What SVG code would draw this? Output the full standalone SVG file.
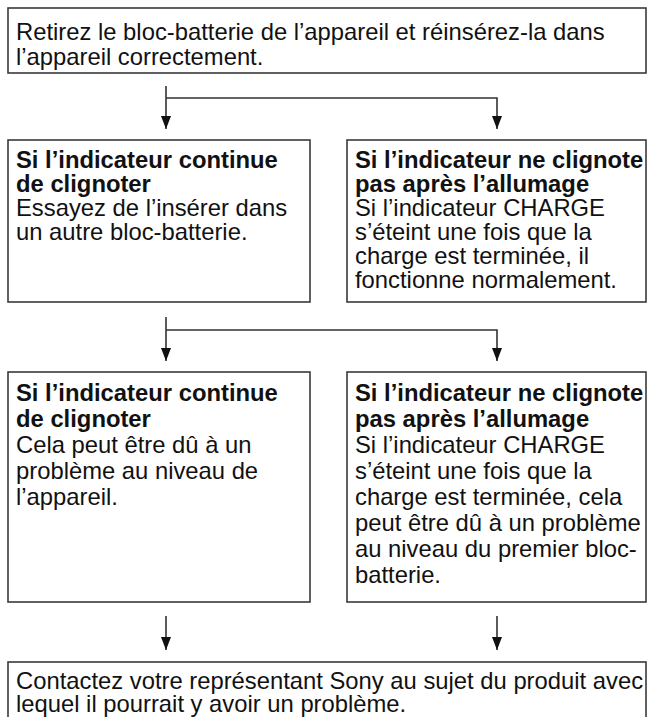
<svg xmlns="http://www.w3.org/2000/svg" width="654" height="717" viewBox="0 0 654 717">
<style>
.box{fill:#fff;stroke:#3a3a3a;stroke-width:1.6}
.t{font-family:"Liberation Sans",Arial,sans-serif;font-size:23.8px;fill:#111}
.b{font-weight:bold}
.c{fill:none;stroke:#333;stroke-width:1.6}
</style>
<defs>
<marker id="ah" viewBox="0 0 13 10" refX="13" refY="5" markerWidth="13" markerHeight="10" markerUnits="userSpaceOnUse" orient="auto">
<path d="M0,0 L13,5 L0,10 Z" fill="#111"/>
</marker>
</defs>
<rect width="654" height="717" fill="#fff"/>
<g id="connectors">
<path class="c" d="M166,86 V129" marker-end="url(#ah)"/>
<path class="c" d="M166,98 H497 V129" marker-end="url(#ah)"/>
<path class="c" d="M166,317 V361" marker-end="url(#ah)"/>
<path class="c" d="M166,330 H497 V361" marker-end="url(#ah)"/>
<path class="c" d="M166,616 V650" marker-end="url(#ah)"/>
<path class="c" d="M497,616 V650" marker-end="url(#ah)"/>
</g>
<g id="n1">
<rect class="box" x="8" y="8" width="638" height="65"/>
<text class="t" x="16" y="40">Retirez le bloc-batterie de l’appareil et réinsérez-la dans</text>
<text class="t" x="16" y="65">l’appareil correctement.</text>
</g>
<g id="n2">
<rect class="box" x="8" y="140" width="302" height="162"/>
<text class="t b" x="16" y="168">Si l’indicateur continue</text>
<text class="t b" x="16" y="192">de clignoter</text>
<text class="t" x="16" y="216">Essayez de l’insérer dans</text>
<text class="t" x="16" y="240">un autre bloc-batterie.</text>
</g>
<g id="n3">
<rect class="box" x="347" y="140" width="299" height="162"/>
<text class="t b" x="355" y="168">Si l’indicateur ne clignote</text>
<text class="t b" x="355" y="192">pas après l’allumage</text>
<text class="t" x="355" y="216">Si l’indicateur CHARGE</text>
<text class="t" x="355" y="240">s’éteint une fois que la</text>
<text class="t" x="355" y="264">charge est terminée, il</text>
<text class="t" x="355" y="288">fonctionne normalement.</text>
</g>
<g id="n4">
<rect class="box" x="8" y="372" width="302" height="230"/>
<text class="t b" x="16" y="401">Si l’indicateur continue</text>
<text class="t b" x="16" y="427">de clignoter</text>
<text class="t" x="16" y="453">Cela peut être dû à un</text>
<text class="t" x="16" y="479">problème au niveau de</text>
<text class="t" x="16" y="505">l’appareil.</text>
</g>
<g id="n5">
<rect class="box" x="347" y="372" width="299" height="230"/>
<text class="t b" x="355" y="401">Si l’indicateur ne clignote</text>
<text class="t b" x="355" y="427">pas après l’allumage</text>
<text class="t" x="355" y="453">Si l’indicateur CHARGE</text>
<text class="t" x="355" y="479">s’éteint une fois que la</text>
<text class="t" x="355" y="505">charge est terminée, cela</text>
<text class="t" x="355" y="531">peut être dû à un problème</text>
<text class="t" x="355" y="557">au niveau du premier bloc-</text>
<text class="t" x="355" y="583">batterie.</text>
</g>
<g id="n6">
<rect class="box" x="8" y="662" width="638" height="60"/>
<text class="t" x="16" y="689">Contactez votre représentant Sony au sujet du produit avec</text>
<text class="t" x="16" y="712">lequel il pourrait y avoir un problème.</text>
</g>
</svg>
